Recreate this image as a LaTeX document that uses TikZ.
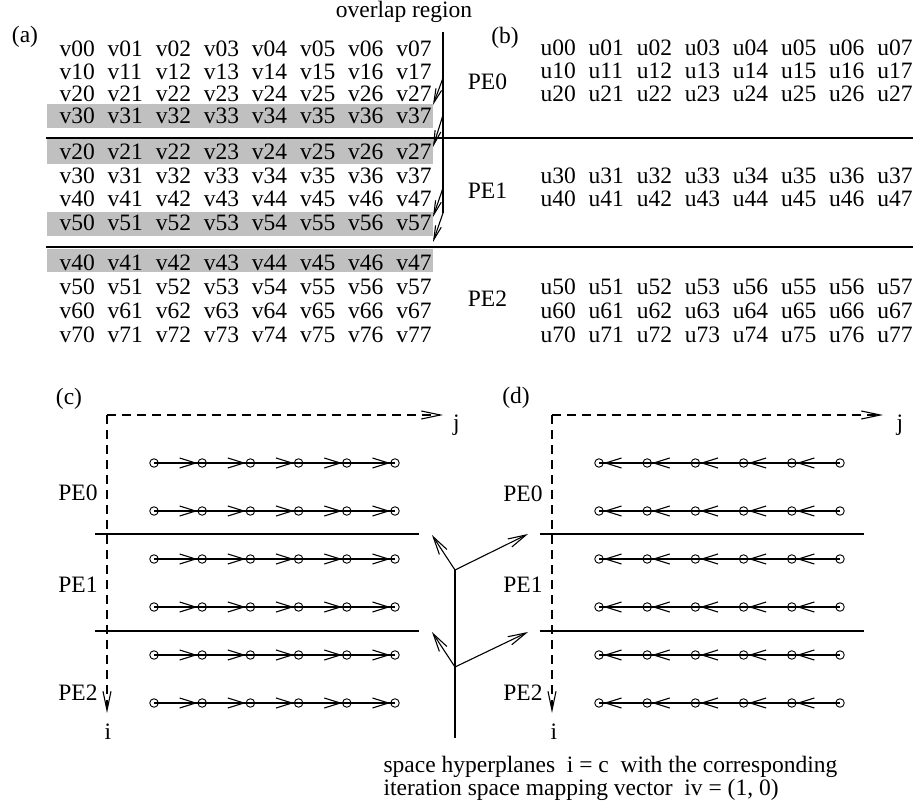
\documentclass[tikz,border=0pt]{standalone}
\usepackage{fontspec}
\setmainfont{Liberation Serif}
\usepackage{xcolor}
\usetikzlibrary{arrows.meta}

\definecolor{bandgray}{RGB}{192,192,192}

\begin{document}
\begin{tikzpicture}[x=1pt,y=-1pt,line width=1.1pt,
    font=\fontsize{23.5}{28}\selectfont]
    \tikzset{
      cell/.style={anchor=base west, inner sep=0pt},
      lbl/.style={inner sep=0pt},
      band/.style={fill=bandgray, draw=none, anchor=north west, minimum width=386pt, inner sep=0pt},
      gridpt/.style={circle, draw, line width=0.9pt, minimum size=8.5pt, inner sep=0pt},
      hop/.style={-{Straight Barb[length=16pt,width=10pt]}},
      axisline/.style={-{Straight Barb[length=19pt,width=8pt]}, dash pattern=on 9pt off 6pt},
      vec/.style={-{Straight Barb[length=18pt,width=9pt]}},
      pointer/.style={-{Straight Barb[length=14pt,width=6pt]}}
    }
    \useasboundingbox (0,0) rectangle (913,810);
    % (a) data of the three PEs, with the overlap bands
    \foreach \ya/\yb [count=\k] in {103/127,138/163,211/235,248/271}
      \node[band, minimum height={\yb pt-\ya pt}] (ov\k) at (46,\ya) {};
    \foreach \r/\y [count=\k] in {0/56.5,1/79.5,2/102,3/124,2/160,3/183.5,4/207,5/231,4/270.5,5/295,6/318.5,7/342.5}
      \foreach \c in {0,...,7}
        \node[cell] (v\k-\c) at ({59+48.1*\c},\y) {v\r\c};
    \node[lbl] (ta) at (25,37) {(a)};
    \node[cell, anchor=base] (ovlabel) at (404,18) {overlap region};
    \coordinate (ovtop) at (443,32);
    \foreach \ya/\yb [count=\k] in {78/105,115/147,188/217,213/242} {
      \coordinate (src\k) at (443,\ya);
      \coordinate (tip\k) at (433,\yb);
      \draw[pointer] (src\k) -- (tip\k);
    }
    \draw (ovtop) -- (src4);
    \coordinate (sepa) at (46,138);
    \coordinate (sepb) at (913,138);
    \coordinate (sepc) at (46,247);
    \coordinate (sepd) at (913,247);
    \draw (sepa) -- (sepb);
    \draw (sepc) -- (sepd);

    % (b) data owned by each PE
    \node[lbl] (tb) at (505,38) {(b)};
    \foreach \r/\y/\cols [count=\k] in {0/56/{0,1,2,3,4,5,6,7},1/79/{0,1,2,3,4,5,6,7},2/101.5/{0,1,2,3,4,5,6,7},
        3/183.5/{0,1,2,3,4,5,6,7},4/207/{0,1,2,3,4,5,6,7},
        5/295/{0,1,2,3,6,5,6,7},6/318.5/{0,1,2,3,4,5,6,7},7/342.5/{0,1,2,3,4,5,6,7}}
      \foreach \d [count=\c from 0] in \cols
        \node[cell] (u\k-\c) at ({540+48.1*\c},\y) {u\r\d};
    \node[lbl] (bpe0) at (487.5,82) {PE0};
    \node[lbl] (bpe1) at (487.5,191) {PE1};
    \node[lbl] (bpe2) at (487.5,299) {PE2};

    % (c) and (d) iteration spaces
    \node[lbl] (tc) at (69,399) {(c)};
    \node[lbl] (td) at (516,398) {(d)};
    \foreach \y [count=\r] in {463,511,559,607,655,703} {
      \foreach \c in {0,...,5} {
        \node[gridpt] (c\r-\c) at ({154+48.2*\c},\y) {};
        \node[gridpt] (d\r-\c) at ({599+48.2*\c},\y) {};
      }
      \draw (c\r-0.center) -- (c\r-5.center);
      \draw (d\r-0.center) -- (d\r-5.center);
      \foreach \c [evaluate=\c as \n using int(\c+1)] in {0,...,4} {
        \draw[hop] (c\r-\c) -- (c\r-\n);
        \draw[hop] (d\r-\n) -- (d\r-\c);
      }
    }
    \coordinate (cO) at (107,415);
    \coordinate (cJ) at (443,415);
    \coordinate (cI) at (107,713);
    \coordinate (dO) at (552,415);
    \coordinate (dJ) at (883,415);
    \coordinate (dI) at (552,713);
    \draw[axisline] (cO) -- (cJ);
    \draw[axisline] (cO) -- (cI);
    \draw[axisline] (dO) -- (dJ);
    \draw[axisline] (dO) -- (dI);
    \node[lbl] (cj) at (456.5,425) {j};
    \node[lbl] (ci) at (108,732) {i};
    \node[lbl] (dj) at (900,425) {j};
    \node[lbl] (di) at (554,732) {i};
    \foreach \x/\p in {95/c,540/d} {
      \coordinate (\p sa) at (\x,534);
      \coordinate (\p sb) at ({\x+324},534);
      \coordinate (\p sc) at (\x,631);
      \coordinate (\p sd) at ({\x+324},631);
      \draw (\p sa) -- (\p sb);
      \draw (\p sc) -- (\p sd);
    }
    \node[lbl] (cpe0) at (78,493) {PE0};
    \node[lbl] (cpe1) at (78,585) {PE1};
    \node[lbl] (cpe2) at (78,693) {PE2};
    \node[lbl] (dpe0) at (523,494) {PE0};
    \node[lbl] (dpe1) at (523,585) {PE1};
    \node[lbl] (dpe2) at (523,693) {PE2};

    % space hyperplanes and mapping vector
    \coordinate (hpa) at (455,570);
    \coordinate (hpb) at (455,667);
    \coordinate (hpend) at (455,738);
    \coordinate (nva) at (432,535);
    \coordinate (iva) at (528,534);
    \coordinate (nvb) at (432,632);
    \coordinate (ivb) at (528,632);
    \draw (hpa) -- (hpend);
    \draw[vec] (hpa) -- (nva);
    \draw[vec] (hpa) -- (iva);
    \draw[vec] (hpb) -- (nvb);
    \draw[vec] (hpb) -- (ivb);
    \node[cell] (capa) at (383,772) {space hyperplanes\ \ i = c\ \ with the corresponding};
    \node[cell] (capb) at (383,795) {iteration space mapping vector\ \ iv = (1, 0)};
  \end{tikzpicture}
\end{document}
